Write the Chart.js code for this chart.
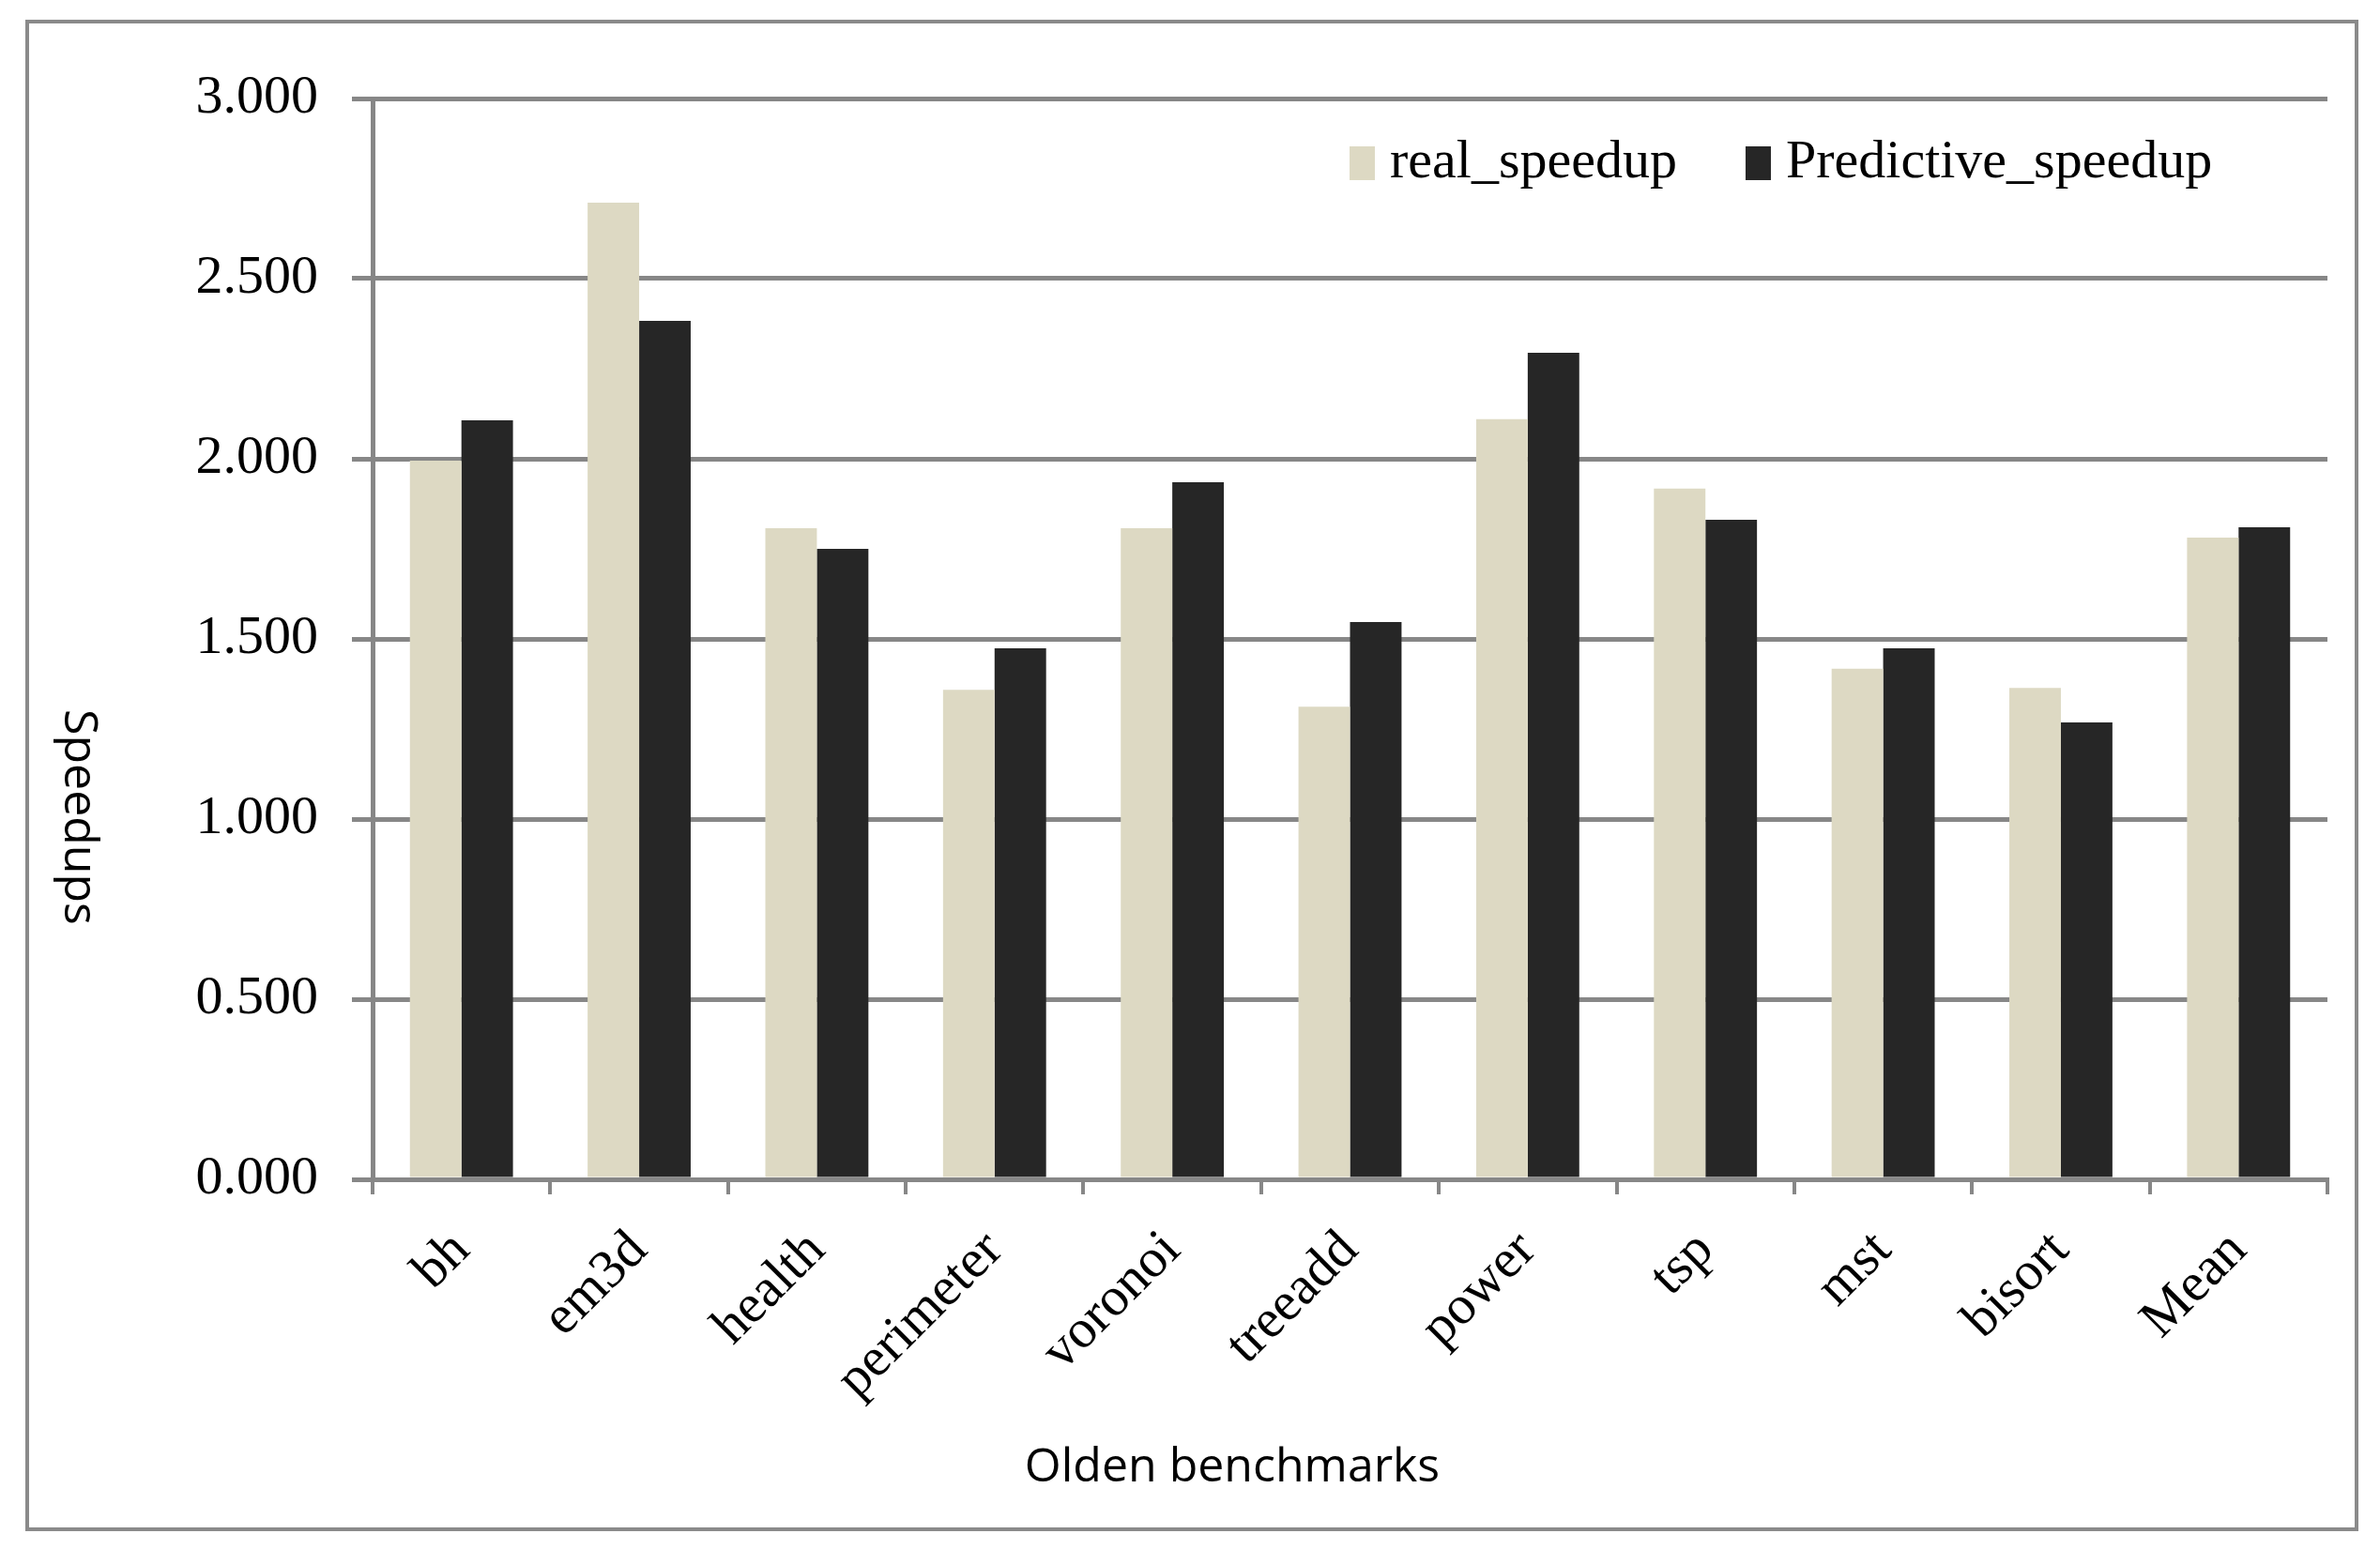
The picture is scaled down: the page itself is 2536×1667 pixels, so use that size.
<!DOCTYPE html>
<html>
<head>
<meta charset="utf-8">
<title>Olden benchmarks speedups</title>
<script src="https://cdn.jsdelivr.net/npm/chart.js@4.4.1/dist/chart.umd.min.js"></script>
<style>
  html, body { margin: 0; padding: 0; background: #fff; }
  #frame {
    position: absolute; left: 27px; top: 21px;
    width: 2478px; height: 1603px;
    border: 4px solid #8a8a8a;
  }
  #speedup { display: block; }
</style>
</head>
<body>
<div id="frame"><canvas id="speedup" width="2478" height="1603"></canvas></div>
<script>
// data
var benchmarks = ["bh", "em3d", "health", "perimeter", "voronoi", "treeadd", "power", "tsp", "mst", "bisort", "Mean"];
var realSpeedup = [1.995, 2.711, 1.807, 1.359, 1.807, 1.312, 2.110, 1.917, 1.417, 1.364, 1.781];
var predictiveSpeedup = [2.107, 2.383, 1.750, 1.474, 1.935, 1.547, 2.294, 1.831, 1.474, 1.268, 1.810];
var seriesNames = ["real_speedup", "Predictive_speedup"];
var yTicks = [0, 0.5, 1, 1.5, 2, 2.5, 3];

var gridGray = "#878787";
var serif = "'Liberation Serif', 'Times New Roman', serif";
var sans = "'Open Sans', 'Liberation Sans', sans-serif";

// axis titles: y reads top to bottom, x sits left of centre, so draw them ourselves
var axisTitles = {
	id: 'axisTitles',
	afterDraw: function(chart){
		var ctx = chart.ctx, area = chart.chartArea;
		ctx.save();
		ctx.font = "50px " + sans;
		ctx.fillStyle = "#000";
		ctx.textAlign = "center";
		ctx.textBaseline = "middle";
		ctx.fillText("Olden benchmarks", area.left + 916, area.bottom + 308);
		ctx.translate(area.left - 314, area.top + 766);
		ctx.rotate(Math.PI / 2);
		ctx.fillText("Speedups", 0, 0);
		ctx.restore();
	}
};

// legend sits inside the plot, top right
var innerLegend = {
	id: 'innerLegend',
	afterDraw: function(chart){
		var ctx = chart.ctx, area = chart.chartArea;
		var x = area.left + 1041;
		var y = area.top + 69;
		ctx.save();
		ctx.font = "58px " + serif;
		ctx.textBaseline = "middle";
		chart.data.datasets.forEach(function(ds){
			ctx.fillStyle = ds.backgroundColor;
			ctx.fillRect(x, y - 18, 27, 36);
			ctx.fillStyle = "#000";
			ctx.fillText(ds.label, x + 43, y);
			x += 43 + ctx.measureText(ds.label).width + 73;
		});
		ctx.restore();
	}
};

var chart_bar_settings = {
	type: 'bar',
	data: {
		labels: benchmarks,
		datasets: [{
			label: seriesNames[0],
			data: realSpeedup,
			backgroundColor: "#DDD9C3",
			categoryPercentage: 0.58,
			barPercentage: 1.0
		}, {
			label: seriesNames[1],
			data: predictiveSpeedup,
			backgroundColor: "#262626",
			categoryPercentage: 0.58,
			barPercentage: 1.0
		}]
	},
	options: {
		responsive: false,
		animation: false,
		layout: { padding: { left: 0, top: 80, right: 29, bottom: 0 } },
		plugins: {
			legend: { display: false },
			tooltip: { enabled: false }
		},
		scales: {
			x: {
				grid: {
					offset: true,
					drawOnChartArea: false,
					color: gridGray,
					lineWidth: 4,
					tickLength: 16
				},
				border: { display: true, color: gridGray, width: 5 },
				ticks: {
					minRotation: 45,
					maxRotation: 45,
					padding: 26,
					color: "#000",
					font: { family: serif, size: 58 }
				},
				afterFit: function(scale){ scale.height = 371; }
			},
			y: {
				min: 0,
				max: 3,
				afterBuildTicks: function(scale){
					scale.ticks = yTicks.map(function(v){ return { value: v }; });
				},
				grid: { color: gridGray, lineWidth: 5, tickLength: 22 },
				border: { display: true, color: gridGray, width: 5 },
				ticks: {
					padding: 36,
					color: "#000",
					font: { family: serif, size: 58 },
					callback: function(v){ return Number(v).toFixed(3); }
				},
				afterFit: function(scale){ scale.width = 366; }
			}
		}
	},
	plugins: [axisTitles, innerLegend]
};

var chart_bar = new Chart(document.getElementById('speedup'), chart_bar_settings);
</script>
</body>
</html>
